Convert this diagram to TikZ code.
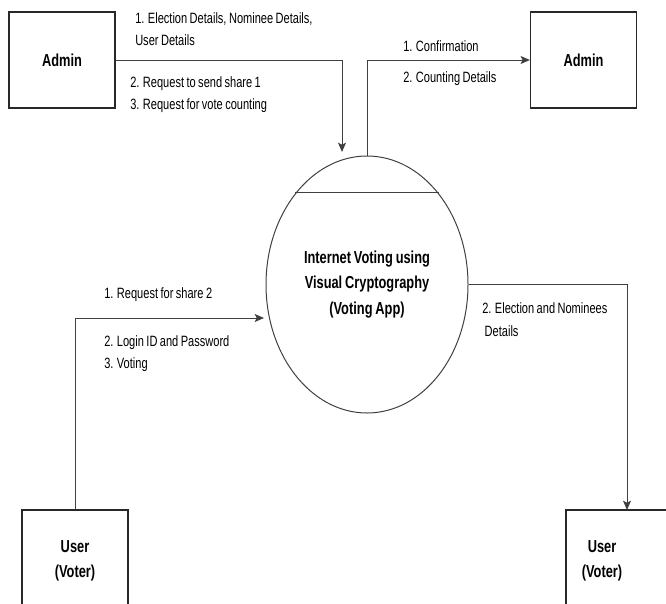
\documentclass[tikz,border=0pt]{standalone}
\usepackage{fontspec}
\setmainfont[FakeStretch=0.74, WordSpace=0.8]{Liberation Sans}
\usepackage{tikz}
\usetikzlibrary{shapes.geometric, arrows.meta}
\definecolor{linegrey}{RGB}{64,64,64}
\definecolor{boxgrey}{RGB}{40,40,40}

\begin{document}
\begin{tikzpicture}[x=0.75pt, y=-0.75pt,
    entity/.style={draw=boxgrey, line width=0.9pt, minimum width=79.5pt, minimum height=72pt,
      inner sep=0pt, align=center, font=\fontsize{13}{19}\selectfont\bfseries},
    flow/.style={draw=linegrey, line width=0.75pt, -{Stealth[length=7pt, width=6pt, inset=1.5pt]}},
    flowlabel/.style={anchor=west, inner sep=0pt, align=left, font=\fontsize{11.2}{17}\selectfont}]
  \clip (0,0) rectangle (666,603);

  % external entities
  \node[entity] (adminL) at (62,60) {Admin};
  \node[entity] (adminR) at (583.5,60) {Admin};
  \node[entity, minimum height=76.5pt] (userL) at (75,561) {User\\(Voter)};
  \node[entity, minimum height=76.5pt] (userR) at (619,561) {};
  \node[inner sep=0pt, align=center, font=\fontsize{13}{19}\selectfont\bfseries] (userRtxt) at (602,561) {User\\(Voter)};

  % the process
  \node[ellipse, draw=linegrey, line width=0.75pt, minimum width=151.5pt, minimum height=192.75pt,
    inner sep=0pt, align=center, font=\fontsize{13}{19}\selectfont\bfseries] (app) at (367,284.5)
    {Internet Voting using\\Visual Cryptography\\(Voting App)};
  \draw[linegrey, line width=0.75pt] (app.128) -- (app.52);

  % arrow ends
  \coordinate (adminIn) at (342,152);
  \coordinate (userIn) at (264,318);
  \coordinate (userOut) at (627,510);

  \draw[flow] (adminL.east) -| (adminIn);
  \draw[flow] (app.north) |- (adminR.west);
  \draw[flow] (userL.north) |- (userIn);
  \draw[flow] (app.east) -| (userOut);

  % flow labels
  \node[flowlabel] (l1) at (135,29) {1. Election Details, Nominee Details,\\User Details};
  \node[flowlabel] (l2) at (130,94.5) {2. Request to send share 1\\3. Request for vote counting};
  \node[flowlabel] (l3) at (403,46) {1. Confirmation};
  \node[flowlabel] (l4) at (403,79) {2. Counting Details};
  \node[flowlabel] (l5) at (104,295) {1. Request for share 2};
  \node[flowlabel] (l6) at (104,353.5) {2. Login ID and Password\\3. Voting};
  \node[flowlabel] (l7) at (482,319.5) {2. Election and Nominees\\\ Details};
\end{tikzpicture}
\end{document}
